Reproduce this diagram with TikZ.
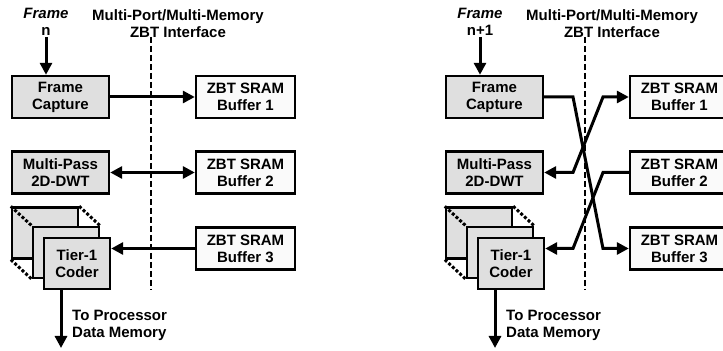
\documentclass[tikz,border=0pt]{standalone}
\usepackage{fontspec}
\setmainfont{Liberation Sans}
\usetikzlibrary{arrows.meta}

\begin{document}
\begin{tikzpicture}[x=0.5pt, y=-0.5pt, line width=1.2pt,
    txt/.style={font=\fontsize{7.5}{8.5}\selectfont\bfseries, align=center, inner sep=0pt},
    proc/.style={txt, draw, fill=gray!25, minimum width=48.5pt, minimum height=21pt},
    buf/.style={txt, draw, fill=gray!4, minimum width=49.5pt, minimum height=21pt},
    layer/.style={txt, draw, fill=gray!25, minimum width=33pt, minimum height=25.5pt},
    tip/.style={line width=1.5pt, -{Triangle[length=6pt,width=6pt]}},
    both/.style={line width=1.5pt, {Triangle[length=6pt,width=6pt]}-{Triangle[length=6pt,width=6pt]}}]
  \useasboundingbox (0,0) rectangle (723,351);
  \foreach \o/\n/\s in {0/n/l, 434/n+1/r} {
    \begin{scope}[xshift=\o*0.5pt]
      \node[txt] (frm\s) at (46,22) {\textit{Frame}\\\n};
      \node[txt] (hdr\s) at (178,24) {Multi-Port/Multi-Memory\\ZBT Interface};
      \coordinate (itop\s) at (151,37);
      \coordinate (ibot\s) at (151,290);
      \draw[dash pattern=on 3pt off 1.5pt] (itop\s) -- (ibot\s);
      \node[proc] (cap\s) at (60.5,97) {Frame\\Capture};
      \node[proc] (dwt\s) at (60.5,172.5) {Multi-Pass\\2D-DWT};
      \node[buf] (bufa\s) at (245.5,97) {ZBT SRAM\\Buffer 1};
      \node[buf] (bufb\s) at (245.5,172.5) {ZBT SRAM\\Buffer 2};
      \node[buf] (bufc\s) at (245.5,248.5) {ZBT SRAM\\Buffer 3};
      \node[layer] (back\s) at (45,233) {};
      \draw[densely dotted, line width=1.5pt]
        (back\s.north west) -- ++(21,19.5)
        (back\s.north east) -- ++(21,19.5)
        (back\s.south west) -- ++(21,19.5);
      \node[layer] (mid\s) at (66,252.5) {};
      \node[layer] (tier\s) at (77,263.5) {Tier-1\\Coder};
      \coordinate (out\s) at (61,348);
      \draw[tip] (frm\s.south) -- (frm\s.south |- cap\s.north);
      \draw[tip] (out\s |- tier\s.south) -- (out\s);
      \node[txt, anchor=west, align=left] (dest\s) at (71,325) {To Processor\\Data Memory};
    \end{scope}
  }
  % frame n: straight ports
  \draw[tip] (capl.east) -- (bufal.west);
  \draw[both] (dwtl.east) -- (bufbl.west);
  \draw[tip] (bufcl.west) -- (bufcl.west -| tierl.east);
  % frame n+1: ports swapped
  \coordinate (xl) at (573,0);
  \coordinate (xr) at (603,0);
  \draw[tip] (capr.east) -- (xl |- capr.east) -- (xr |- bufcr.west) -- (bufcr.west);
  \draw[both] (dwtr.east) -- (xl |- dwtr.east) -- (xr |- bufar.west) -- (bufar.west);
  \draw[tip] (bufbr.west) -- (xr |- bufbr.west) -- (xl |- bufcr.west) -- (bufcr.west -| tierr.east);
\end{tikzpicture}
\end{document}
